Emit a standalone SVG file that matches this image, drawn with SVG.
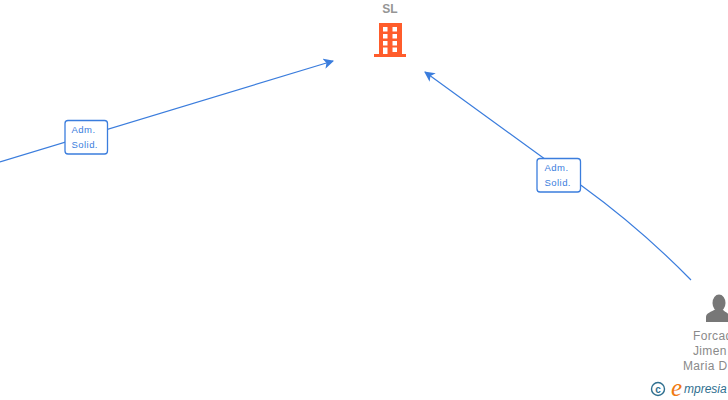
<svg xmlns="http://www.w3.org/2000/svg" width="728" height="400" viewBox="0 0 728 400">
<style>
.edge{fill:none;stroke:#3b7ddd;stroke-width:1.2}
.box{fill:#fff;stroke:#3b7ddd;stroke-width:1.3}
.lbl{font-family:"Liberation Sans",Arial,sans-serif;font-size:9.5px;fill:#3b7ddd;letter-spacing:.45px}
.name{font-family:"Liberation Sans",Arial,sans-serif;font-size:12px;fill:#8a8a8a;letter-spacing:.35px}
</style>
<defs>
<marker id="arrow" viewBox="0 0 10 10" refX="9" refY="5" markerWidth="10.500" markerHeight="10.500" markerUnits="userSpaceOnUse" orient="auto"><path d="M0 0L10 5L0 10L2.500 5Z" fill="#3b7ddd"/></marker>
</defs>
<g id="connectors">
<path class="edge" d="M0 162L333 61" marker-end="url(#arrow)"/>
<path class="edge" d="M691 280Q640 228 582 186L425 72" marker-end="url(#arrow)"/>
</g>
<g id="edge-label-1">
<rect class="box" x="65" y="120.500" width="42.500" height="33.500" rx="3"/>
<text class="lbl" x="71.500" y="133">Adm.</text>
<text class="lbl" x="71.500" y="148">Solid.</text>
</g>
<g id="edge-label-2">
<rect class="box" x="537" y="158.500" width="43.500" height="33.500" rx="3"/>
<text class="lbl" x="544.500" y="171">Adm.</text>
<text class="lbl" x="544.500" y="186">Solid.</text>
</g>
<g id="node-sl">
<text x="390" y="13" font-family="'Liberation Sans',Arial,sans-serif" font-size="12" font-weight="bold" fill="#959595" text-anchor="middle">SL</text>
<path fill="#ff5c2b" fill-rule="evenodd" d="M379 23H402V54H406V57H374V54H379ZM383 27V31.500H387.500V27ZM392.500 27V31.500H397V27ZM383 34V38.500H387.500V34ZM392.500 34V38.500H397V34ZM383 41V45.500H387.500V41ZM392.500 41V45.500H397V41ZM383 47.500V54H387.500V47.500ZM392.500 47.500V52H397V47.500Z"/>
</g>
<g id="node-person">
<ellipse cx="719" cy="303" rx="6.500" ry="8.500" fill="#777"/>
<path fill="#777" d="M706 322V317C706 313 711 312 716 309H722C725 312 728 313 728 314V322Z"/>
<text class="name" x="693" y="340">Forcad</text>
<text class="name" x="693" y="355">Jimen</text>
<text class="name" x="683" y="370">Maria D</text>
</g>
<g id="watermark">
<circle cx="658" cy="389" r="6.500" fill="none" stroke="#2f6f8f" stroke-width="1.400"/>
<text x="658" y="392.500" font-family="'Liberation Sans',Arial,sans-serif" font-size="10" font-weight="bold" fill="#2f6f8f" text-anchor="middle">c</text>
<text x="671" y="396" font-family="'Liberation Serif',serif" font-size="25" font-style="italic" fill="#f07a12">e</text>
<text x="684" y="393" font-family="'Liberation Sans',sans-serif" font-size="12" font-style="italic" fill="#2f6f8f">mpresia</text>
</g>
</svg>
